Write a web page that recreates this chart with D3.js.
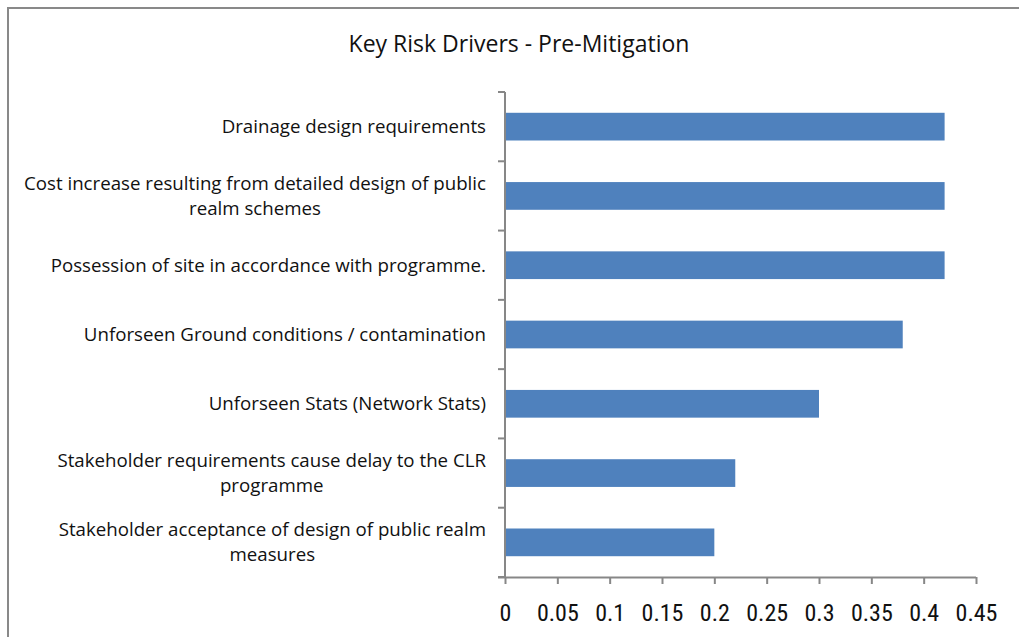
<!DOCTYPE html>
<html>
<head>
<meta charset="utf-8">
<script src="https://cdn.jsdelivr.net/npm/d3@7"></script>
<style>
  body { margin: 0; background: #fff; }
  svg { display: block; }
</style>
</head>
<body>
<div id="chart"></div>
<script>
(function () {

  // chart data, top bar first
  const categories = [
    "Drainage design requirements",
    "Cost increase resulting from detailed design of public\nrealm schemes",
    "Possession of site in accordance with programme.",
    "Unforseen Ground conditions / contamination",
    "Unforseen Stats (Network Stats)",
    "Stakeholder requirements cause delay to the CLR\nprogramme",
    "Stakeholder acceptance of design of public realm\nmeasures"
  ];
  const values = [0.42, 0.42, 0.42, 0.38, 0.30, 0.22, 0.20];
  const xTicks = [0, 0.05, 0.1, 0.15, 0.2, 0.25, 0.3, 0.35, 0.4, 0.45];
  const title = "Key Risk Drivers - Pre-Mitigation";

  const W = 1019, H = 637;
  let margin = {top: 92, right: 43, bottom: 60, left: 505};
  let labelFont = "'Open Sans', Lato, sans-serif";

  let svg = d3.select("#chart")
    .append("svg")
      .attr("width", W)
      .attr("height", H);

  // outer frame (runs off the right and bottom edge)
  svg.append("rect")
      .attr("x", 8).attr("y", 8)
      .attr("width", W + 10).attr("height", H + 10)
      .attr("fill", "none")
      .attr("stroke", "#898989")
      .attr("stroke-width", 2);

  svg.append("text")
      .attr("x", 519).attr("y", 52)
      .attr("text-anchor", "middle")
      .style("font-family", labelFont)
      .style("font-size", "23px")
      .attr("fill", "#111")
      .text(title);

  let x = d3.scaleLinear()
      .domain([0, 0.45])
      .range([margin.left, W - margin.right]);

  let y = d3.scaleBand()
      .domain(categories)
      .range([margin.top, 577])
      .paddingInner(0.6)
      .paddingOuter(0.3);

  let axisColor = "#878787";
  let y0 = 577;

  // bars
  svg.selectAll("rect.bar")
    .data(values)
    .enter()
    .append("rect")
      .attr("class", "bar")
      .attr("x", x(0))
      .attr("y", (d, i) => y(categories[i]))
      .attr("width", d => x(d) - x(0))
      .attr("height", y.bandwidth())
      .attr("fill", "#4f81bd");

  // x axis
  let xAxis = svg.append("g")
      .attr("transform", "translate(0," + y0 + ")")
      .call(d3.axisBottom(x).tickValues(xTicks).tickSize(7).tickPadding(20)
        .tickFormat(d => String(d)));
  xAxis.select(".domain").attr("d", "M" + (x(0) - 7) + ",0.5H" + x(0.45));
  xAxis.selectAll("line").attr("stroke", axisColor).attr("stroke-width", 2);
  xAxis.select(".domain").attr("stroke", axisColor).attr("stroke-width", 2);
  xAxis.selectAll("text")
      .style("font-family", "'Liberation Sans Narrow', 'Roboto Condensed', 'Arial Narrow', sans-serif")
      .style("font-size", "24px")
      .attr("fill", "#111");

  // y axis: line and ticks at category boundaries
  let step = y.step();
  let top = margin.top;
  let boundaries = d3.range(categories.length + 1).map(i => top + i * step);
  svg.append("line")
      .attr("x1", x(0)).attr("x2", x(0))
      .attr("y1", top).attr("y2", y0)
      .attr("stroke", axisColor).attr("stroke-width", 2);
  svg.selectAll("line.ytick")
    .data(boundaries)
    .enter()
    .append("line")
      .attr("class", "ytick")
      .attr("x1", x(0) - 7).attr("x2", x(0))
      .attr("y1", d => d).attr("y2", d => d)
      .attr("stroke", axisColor).attr("stroke-width", 2);

  // category labels: block right-aligned, lines centred in the block
  let labelRight = 486;
  let lineH = 25;
  categories.forEach(function (c, i) {
    let lines = c.split("\n");
    let g = svg.append("g");
    let cy = y(c) + y.bandwidth() / 2;
    let texts = lines.map(function (l, j) {
      return g.append("text")
        .attr("y", cy + (j - (lines.length - 1) / 2) * lineH)
        .attr("dy", "0.35em")
        .attr("text-anchor", "middle")
        .style("font-family", labelFont)
        .style("font-size", "18.7px")
        .attr("fill", "#111")
        .text(l);
    });
    let w = d3.max(texts, t => t.node().getComputedTextLength());
    texts.forEach(t => t.attr("x", labelRight - w / 2));
  });

})();
</script>
</body>
</html>
